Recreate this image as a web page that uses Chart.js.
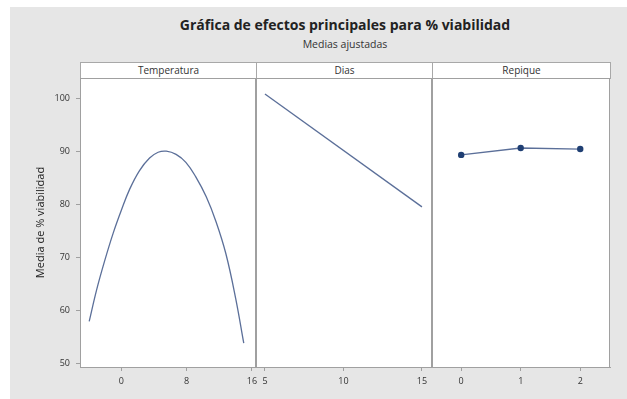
<!DOCTYPE html>
<html>
<head>
<meta charset="utf-8">
<script src="https://cdn.jsdelivr.net/npm/chart.js@4/dist/chart.umd.min.js"></script>
<style>
  body { margin: 0; background: #ffffff; }
  #wrap { position: relative; width: 627px; height: 399px; overflow: hidden; }
  #bg { position: absolute; left: 10px; top: 7px; right: 0; bottom: 0; background: #e6e6e6; }
  canvas { position: absolute; left: 0; top: 0; }
  .txt { position: absolute; font-family: "Open Sans", "DejaVu Sans", sans-serif; color: #222; text-align: center; }
  #title { left: 80px; width: 530px; top: 15px; font-size: 14px; font-weight: bold; }
  #sub { left: 80px; width: 530px; top: 37px; font-size: 10.5px; color: #333; }
  .hdr { position: absolute; top: 62px; height: 15px; background: #fff; border: 1px solid #a8a8a8;
         font-family: "Open Sans", "DejaVu Sans", sans-serif; font-size: 10px; color: #333; text-align: center; line-height: 15px; box-sizing: content-box; }
</style>
</head>
<body>
<div id="wrap">
  <div id="bg"></div>
  <div class="txt" id="title">Gráfica de efectos principales para % viabilidad</div>
  <div class="txt" id="sub">Medias ajustadas</div>
  <div class="hdr" style="left:80px;width:175px;">Temperatura</div>
  <div class="hdr" style="left:256px;width:175px;">Dias</div>
  <div class="hdr" style="left:432px;width:177px;">Repique</div>
  <canvas id="c1" width="627" height="399"></canvas>
  <canvas id="c2" width="627" height="399"></canvas>
  <canvas id="c3" width="627" height="399"></canvas>
</div>
<script>
// Temperatura (fitted curve)
var tempX = [-3.95, -3.05, -2.04, -1.02, 0, 1.0, 2.2, 3.45, 4.5, 5.5, 6.7, 7.9, 9.1, 10.4, 11.6, 12.8, 14.0, 15.0]
var tempY = [58.0, 63.9, 69.5, 74.6, 79.0, 82.9, 86.4, 88.8, 89.9, 90.1, 89.5, 88.0, 85.3, 81.5, 76.8, 70.8, 62.4, 53.9]
var tempTicks = [0, 8, 16]

// Dias
var diasX = [5, 15]
var diasY = [100.9, 79.6]
var diasTicks = [5, 10, 15]

// Repique
var repX = [0, 1, 2]
var repY = [89.4, 90.7, 90.5]
var repTicks = [0, 1, 2]

var yTicks = [50, 60, 70, 80, 90, 100]

var lineColor = '#5b6f99'
var markColor = '#1f3f73'
var axisColor = '#a0a0a0'
var font = { family: '"Open Sans", "DejaVu Sans", sans-serif', size: 9 }

function pts(xs, ys) {
    var out = []
    for (var i = 0; i < xs.length; i++) out.push({ x: xs[i], y: ys[i] })
    return out
}

// white plot area + frame
var framePlugin = {
    id: 'frame',
    beforeDraw: function (chart) {
        var a = chart.chartArea, ctx = chart.ctx
        ctx.save()
        ctx.fillStyle = '#ffffff'
        ctx.fillRect(a.left, a.top, a.right - a.left, a.bottom - a.top)
        ctx.restore()
    },
    afterDraw: function (chart) {
        var a = chart.chartArea, ctx = chart.ctx
        ctx.save()
        ctx.strokeStyle = axisColor
        ctx.lineWidth = 1
        ctx.strokeRect(a.left + 0.5, a.top + 0.5, a.right - a.left - 1, a.bottom - a.top)
        ctx.restore()
    }
}

function makeChart(id, data, xmin, xmax, ticks, padL, padR, showY, opts) {
    var ds = Object.assign({
        data: data,
        borderColor: lineColor,
        backgroundColor: markColor,
        borderWidth: 1.3,
        pointRadius: 0,
        showLine: true,
        tension: 0
    }, opts)
    return new Chart(document.getElementById(id), {
        type: 'scatter',
        data: { datasets: [ds] },
        plugins: [framePlugin],
        options: {
            responsive: false,
            animation: false,
            events: [],
            layout: { padding: { left: padL, right: padR, top: 78, bottom: 0 } },
            plugins: { legend: { display: false }, tooltip: { enabled: false } },
            scales: {
                x: {
                    type: 'linear', min: xmin, max: xmax,
                    afterBuildTicks: function (s) { s.ticks = ticks.map(function (v) { return { value: v } }) },
                    afterFit: function (s) { s.height = 32 },
                    grid: { drawOnChartArea: false, drawTicks: true, tickLength: 4, color: axisColor },
                    border: { color: axisColor },
                    ticks: { color: '#333', font: font, padding: 5, maxRotation: 0 }
                },
                y: {
                    display: showY,
                    min: 49.4, max: 103.9,
                    afterBuildTicks: function (s) { s.ticks = yTicks.map(function (v) { return { value: v } }) },
                    afterFit: function (s) { s.width = showY ? 50 : 0 },
                    grid: { drawOnChartArea: false, drawTicks: true, tickLength: 4, color: axisColor },
                    border: { color: axisColor },
                    ticks: { color: '#333', font: font, padding: 6 },
                    title: { display: true, text: 'Media de % viabilidad', color: '#222',
                             font: { family: font.family, size: 11 }, padding: { top: 4, bottom: 4 } }
                }
            }
        }
    })
}

makeChart('c1', pts(tempX, tempY), -5.08, 16.5, tempTicks, 30, 371, true,
    { tension: 0.4 })
makeChart('c2', pts(diasX, diasY), 4.43, 15.64, diasTicks, 256, 195, false, {})
makeChart('c3', pts(repX, repY), -0.49, 2.5, repTicks, 432, 17, false,
    { pointRadius: 3.2, pointBorderWidth: 0, pointBackgroundColor: markColor })
</script>
</body>
</html>
